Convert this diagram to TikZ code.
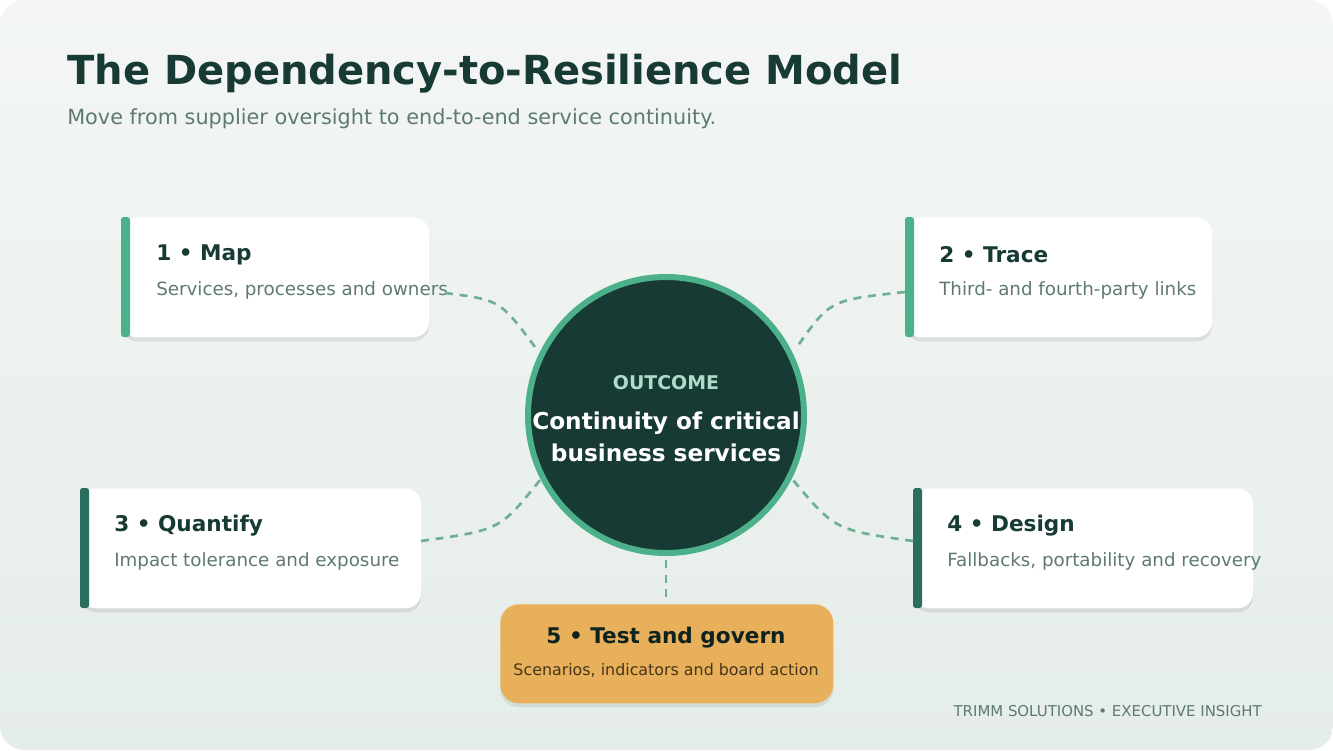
\documentclass[tikz,border=0pt]{standalone}
\usepackage{fontspec}
\setmainfont{DejaVu Sans}
\usetikzlibrary{positioning,calc,shadows,backgrounds}
\definecolor{DeepGreen}{HTML}{173A34}
\definecolor{MintGreen}{HTML}{4CB08A}
\definecolor{PineGreen}{HTML}{2A6E5E}
\definecolor{SageGray}{HTML}{5E7A70}
\definecolor{DashGreen}{HTML}{6FAF95}
\definecolor{Amber}{HTML}{E8B05A}
\definecolor{PaleTop}{HTML}{F3F6F4}
\definecolor{PaleBottom}{HTML}{E5EDE9}
\tikzset{
    card/.style={rectangle, rounded corners=12pt, fill=white, draw=none,
        drop shadow={shadow xshift=0pt, shadow yshift=-3pt, opacity=0.08, fill=black}},
    cardtitle/.style={anchor=west, font=\bfseries\fontsize{16.2}{19}\selectfont, text=DeepGreen, inner sep=0pt},
    carddesc/.style={anchor=west, font=\fontsize{13.7}{16}\selectfont, text=SageGray, inner sep=0pt},
    link/.style={draw=DashGreen, line width=2pt, dash pattern=on 6pt off 5pt}
}
\begin{document}
\begin{tikzpicture}[x=0.75pt, y=-0.75pt]
        % --- NỀN ---
        \useasboundingbox (0,0) rectangle (1333,750);
        \shade[top color=PaleTop, bottom color=PaleBottom, rounded corners=18pt]
            (0,0) rectangle (1333,750);

        % --- TIÊU ĐỀ ---
        \node[anchor=base west, inner sep=0pt, font=\bfseries\fontsize{30}{34}\selectfont, text=DeepGreen]
            (title) at (67,84) {The Dependency-to-Resilience Model};
        \node[anchor=base west, inner sep=0pt, font=\fontsize{15.6}{18}\selectfont, text=SageGray]
            (subtitle) at (67,124) {Move from supplier oversight to end-to-end service continuity.};

        % --- CÁC THẺ ---
        \node[card, minimum width=308*0.75pt, minimum height=120*0.75pt, anchor=north west] (map) at (121,217) {};
        \fill[MintGreen, rounded corners=2pt] (121,217) rectangle (130,337);
        \node[cardtitle] (maptitle) at (156,255) {1 • Map};
        \node[carddesc] (mapdesc) at (156,290) {Services, processes and owners};

        \node[card, minimum width=307*0.75pt, minimum height=120*0.75pt, anchor=north west] (trace) at (905,217) {};
        \fill[MintGreen, rounded corners=2pt] (905,217) rectangle (914,337);
        \node[cardtitle] (tracetitle) at (939,255) {2 • Trace};
        \node[carddesc] (tracedesc) at (939,290) {Third- and fourth-party links};

        \node[card, minimum width=341*0.75pt, minimum height=120*0.75pt, anchor=north west] (quant) at (80,488) {};
        \fill[PineGreen, rounded corners=2pt] (80,488) rectangle (89,608);
        \node[cardtitle] (quanttitle) at (114,526) {3 • Quantify};
        \node[carddesc] (quantdesc) at (114,561) {Impact tolerance and exposure};

        \node[card, minimum width=340*0.75pt, minimum height=120*0.75pt, anchor=north west] (design) at (913,488) {};
        \fill[PineGreen, rounded corners=2pt] (913,488) rectangle (922,608);
        \node[cardtitle] (designtitle) at (947,526) {4 • Design};
        \node[carddesc] (designdesc) at (947,561) {Fallbacks, portability and recovery};

        % --- ĐƯỜNG NỐI ---
        \coordinate (c1) at (535,347);
        \coordinate (c2) at (797,347);
        \coordinate (c3) at (540,480);
        \coordinate (c4) at (793,480);
        \coordinate (c5) at (666,560);
        \coordinate (m1) at (445,293);
        \coordinate (t1) at (905,292);
        \coordinate (q1) at (421,541);
        \coordinate (d1) at (913,541);
        \coordinate (g1) at (666,602);
        \draw[link] (m1) .. controls (500,300) .. (c1);
        \draw[link] (t1) .. controls (830,300) .. (c2);
        \draw[link] (q1) .. controls (500,530) .. (c3);
        \draw[link] (d1) .. controls (835,530) .. (c4);
        \draw[link] (c5) -- (g1);

        % --- VÒNG TRÒN TRUNG TÂM ---
        \node[circle, fill=DeepGreen, draw=MintGreen, line width=4.5pt, minimum size=276*0.75pt] (core) at (666,415) {};
        \node[font=\bfseries\fontsize{14.2}{16}\selectfont, text=MintGreen!45!white, inner sep=0pt] (outcome) at (666,383) {OUTCOME};
        \node[font=\bfseries\fontsize{17.4}{23.5}\selectfont, text=white, align=center, inner sep=0pt] (goal) at (666,437)
            {Continuity of critical\\business services};

        % --- THẺ 5 ---
        \node[rectangle, rounded corners=14pt, fill=Amber, minimum width=333*0.75pt, minimum height=99*0.75pt,
            anchor=north west, drop shadow={shadow xshift=0pt, shadow yshift=-3pt, opacity=0.08, fill=black}] (govern) at (500,604) {};
        \node[font=\bfseries\fontsize{16.2}{19}\selectfont, text=DeepGreen!60!black, inner sep=0pt] (governtitle) at (666,638) {5 • Test and govern};
        \node[font=\fontsize{11.9}{14}\selectfont, text=black!70!Amber, inner sep=0pt] (governdesc) at (666,670) {Scenarios, indicators and board action};

        % --- CHÂN TRANG ---
        \node[anchor=east, inner sep=0pt, font=\fontsize{11.2}{13}\selectfont, text=SageGray] (footer) at (1262,711)
            {TRIMM SOLUTIONS • EXECUTIVE INSIGHT};
\end{tikzpicture}
\end{document}
